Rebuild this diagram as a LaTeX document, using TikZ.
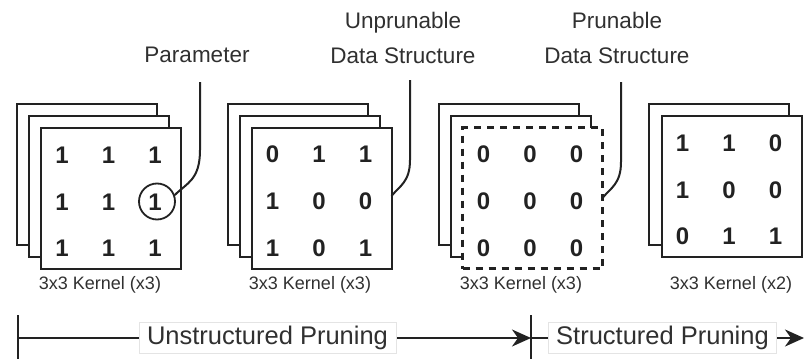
\documentclass[tikz,border=0pt]{standalone}
\usepackage{fontspec}
\setmainfont{Liberation Sans}
\usetikzlibrary{arrows.meta}

\definecolor{ink}{HTML}{222222}
\definecolor{txt}{HTML}{303030}
\definecolor{boxline}{HTML}{E4E4E4}

\tikzset{
  sheet/.style={draw=ink, line width=2pt, fill=white, minimum width=140pt,
                minimum height=141pt, inner sep=0pt, outer sep=0pt},
  sheetdash/.style={sheet, line width=2.3pt, dash pattern=on 7pt off 6pt},
  digit/.style={font=\fontsize{24}{24}\selectfont\bfseries, text=ink, inner sep=0pt},
  caption/.style={font=\fontsize{18}{18}\selectfont, text=txt, inner sep=0pt, anchor=base},
  label/.style={font=\fontsize{22.5}{35}\selectfont, text=txt, align=center, inner sep=0pt},
  leader/.style={draw=ink, line width=2pt},
  axis/.style={draw=ink, line width=2pt},
  phase/.style={font=\fontsize{25.5}{25.5}\selectfont, text=txt, fill=white,
                draw=boxline, line width=0.8pt, inner xsep=8pt, inner ysep=4pt},
  tipx/.style={-{Stealth[length=19pt,width=17pt,inset=6pt]}}
}

% fills the 3x3 grid of a kernel: #1 = front sheet, #2 = list of nine values
\newcommand{\kernelgrid}[2]{%
  \foreach \v [count=\i from 0] in {#2} {
    \pgfmathtruncatemacro{\r}{div(\i,3)}
    \pgfmathtruncatemacro{\c}{mod(\i,3)}
    \pgfmathsetmacro{\dx}{{-49,-2.5,44}[\c]}
    \pgfmathsetmacro{\dy}{{-43.5,3.5,50}[\r]}
    \node[digit] (#1-\r-\c) at ([shift={(\dx,\dy)}]#1.center) {\v};
  }%
}

\begin{document}
\begin{tikzpicture}[x=1pt,y=-1pt]
\useasboundingbox (0,0) rectangle (809,359);

% ---- kernel 1: three sheets, one parameter circled
\node[sheet] (k1a) at (87,174.5) {};
\node[sheet] (k1b) at (99,186.5) {};
\node[sheet] (k1c) at (111,198.5) {};
\kernelgrid{k1c}{1,1,1,1,1,1,1,1,1}
\node[draw=ink, line width=1.8pt, circle, minimum size=36pt, inner sep=0pt] (par) at (157,201.5) {};
\node[caption] (cap1) at (100,289) {3x3 Kernel (x3)};

% ---- kernel 2
\node[sheet] (k2a) at (297.5,174.5) {};
\node[sheet] (k2b) at (309.5,186.5) {};
\node[sheet] (k2c) at (321.5,198) {};
\kernelgrid{k2c}{0,1,1,1,0,0,1,0,1}
\node[caption] (cap2) at (310,289) {3x3 Kernel (x3)};

% ---- kernel 3: front sheet is all zeros (dashed)
\node[sheet] (k3a) at (508.5,174.5) {};
\node[sheet] (k3b) at (520.5,186.5) {};
\node[sheetdash] (k3c) at (532.5,198) {};
\kernelgrid{k3c}{0,0,0,0,0,0,0,0,0}
\node[caption] (cap3) at (521,289) {3x3 Kernel (x3)};

% ---- kernel 4: two sheets left
\node[sheet] (k4a) at (718.5,174.5) {};
\node[sheet] (k4b) at (731.5,186.5) {};
\kernelgrid{k4b}{1,1,0,1,0,0,0,1,1}
\node[caption] (cap4) at (731,289) {3x3 Kernel (x2)};

% ---- labels and leader lines
\node[label, anchor=base] (lab1) at (197,62) {Parameter};
\node[label, anchor=base] (lab2) at (403,63) {Unprunable\\Data Structure};
\node[label, anchor=base] (lab3) at (617,63) {Prunable\\Data Structure};

\coordinate (t1) at (200,82);  \coordinate (m1) at (200,150);
\coordinate (t2) at (410,80);  \coordinate (m2) at (410,160);
\coordinate (t3) at (621,82);  \coordinate (m3) at (621,162);

\draw[leader] (t1) -- (m1) .. controls +(0,30) and +(12,-12) .. (par.20);
\draw[leader] (t2) -- (m2) .. controls +(0,22) and +(8,-10) .. ([yshift=2pt]k2c.east);
\draw[leader] (t3) -- (m3) .. controls +(0,22) and +(8,-10) .. (k3c.east);

% ---- pruning timeline
\coordinate (a0) at (18,338);
\coordinate (a1) at (531,338);
\coordinate (a2) at (804,338);
\draw[axis] (18,315) -- (18,359);
\draw[axis] (531,315) -- (531,359);
\draw[axis, tipx] (a0) -- (a1);
\draw[axis, tipx] (a1) -- (a2);
\node[phase] (unstr) at (267.5,338) {Unstructured Pruning};
\node[phase] (str) at (662.5,338) {Structured Pruning};
\end{tikzpicture}
\end{document}
